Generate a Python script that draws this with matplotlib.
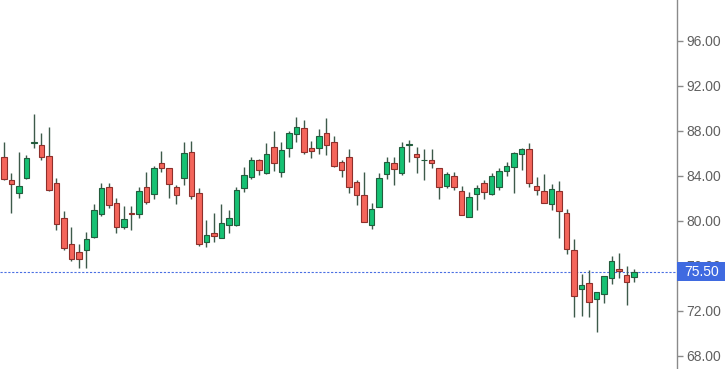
import matplotlib
matplotlib.use("Agg")
import matplotlib.pyplot as plt
from matplotlib.patches import Rectangle
import numpy as np

# OHLC values (one entry per candle)
opens = [85.72, 83.64, 82.52, 83.85, 86.92, 86.76, 85.78, 83.35, 80.24, 77.96,
         77.27, 77.42, 78.60, 80.60, 83.05, 81.57, 79.50, 80.70, 80.60, 83.02,
         82.37, 85.13, 84.68, 83.02, 83.80, 86.10, 82.46, 78.16, 78.90, 78.52,
         79.64, 79.64, 82.96, 83.94, 85.42, 84.24, 86.55, 84.38, 86.52, 87.73,
         88.24, 86.46, 86.46, 87.80, 87.05, 85.27, 85.72, 83.44, 82.31, 79.64,
         81.27, 84.15, 85.13, 84.24, 86.72, 85.96, 85.38, 85.42, 84.68, 83.14,
         84.00, 82.67, 80.38, 82.37, 83.35, 82.37, 83.05, 84.44, 84.83, 85.96,
         86.37, 83.11, 82.67, 81.54, 82.67, 80.68, 77.42, 73.93, 74.46, 73.07,
         73.51, 74.96, 75.70, 75.20, 75.05]
highs = [87.05, 84.24, 86.16, 85.87, 89.48, 87.80, 88.38, 83.85, 80.89, 79.50,
         77.93, 79.05, 81.48, 83.35, 83.35, 82.02, 81.33, 81.33, 83.05, 84.38,
         84.89, 86.25, 84.70, 83.20, 87.05, 87.11, 82.90, 80.09, 80.68, 81.48,
         80.98, 83.05, 84.83, 85.72, 85.50, 86.90, 88.00, 87.05, 88.00, 89.27,
         88.98, 87.11, 88.15, 89.18, 87.56, 85.40, 86.40, 83.60, 84.38, 81.57,
         84.24, 85.72, 85.72, 87.05, 87.20, 86.60, 86.40, 86.40, 84.70, 84.38,
         84.38, 83.11, 82.55, 83.20, 83.64, 84.24, 84.68, 85.22, 86.16, 86.50,
         86.90, 83.94, 84.15, 83.26, 83.56, 81.04, 78.37, 75.26, 75.64, 73.70,
         75.15, 76.89, 77.13, 76.00, 75.70]
lows = [83.60, 80.68, 82.02, 83.73, 86.46, 85.42, 82.70, 79.20, 77.42, 76.44,
        75.80, 75.80, 78.50, 80.44, 81.13, 78.90, 79.29, 79.20, 80.30, 81.48,
        81.96, 84.38, 82.07, 81.48, 83.20, 81.93, 77.80, 77.72, 78.16, 78.46,
        78.90, 79.58, 82.55, 83.73, 84.09, 84.15, 84.44, 83.94, 85.72, 87.05,
        85.93, 85.57, 85.93, 85.87, 84.83, 83.94, 82.46, 81.42, 79.88, 79.29,
        81.20, 83.73, 83.20, 84.09, 85.27, 84.24, 83.64, 84.74, 81.93, 82.90,
        82.76, 80.50, 80.33, 80.98, 81.93, 82.30, 82.76, 84.00, 82.46, 84.53,
        83.05, 82.31, 81.60, 80.98, 78.52, 77.07, 71.49, 71.58, 71.49, 70.16,
        72.74, 74.40, 74.90, 72.53, 74.60]
closes = [83.73, 83.29, 83.11, 85.57, 87.00, 85.66, 82.76, 79.73, 77.63, 76.62,
          76.62, 78.40, 80.98, 82.90, 81.42, 79.50, 80.18, 80.60, 82.67, 81.72,
          84.74, 84.74, 83.29, 82.31, 86.02, 82.25, 77.93, 78.76, 78.67, 79.80,
          80.24, 82.76, 84.09, 85.42, 84.50, 85.93, 85.13, 86.31, 87.80, 88.33,
          86.16, 86.22, 87.56, 86.76, 84.92, 84.53, 83.00, 82.31, 79.94, 81.07,
          83.80, 85.22, 84.62, 86.55, 86.80, 85.66, 85.45, 85.18, 83.05, 84.18,
          83.05, 80.53, 82.16, 82.90, 82.55, 84.00, 84.44, 84.89, 86.02, 86.37,
          83.40, 82.76, 81.63, 82.87, 80.89, 77.51, 73.33, 74.31, 72.83, 73.66,
          75.11, 76.44, 75.56, 74.60, 75.50]

last_price = 75.50
y_ticks = [68, 72, 76, 80, 84, 88, 92, 96]

UP = "#16c173"
UP_EDGE = "#235c3d"
DOWN = "#f4655b"
DOWN_EDGE = "#8e2f2b"
WICK = "#3d5a4a"
LINE_BLUE = "#4a6fe3"

o = np.array(opens)
h = np.array(highs)
l = np.array(lows)
c = np.array(closes)
x = np.arange(len(o))
up = c >= o

fig = plt.figure(figsize=(7.25, 3.69), dpi=100)
ax = fig.add_axes([0, 0, 677 / 725, 1])

# wicks first, bodies on top
ax.vlines(x, l, h, color=WICK, linewidth=1.0, zorder=2)
bottoms = np.minimum(o, c)
heights = np.maximum(np.abs(c - o), 0.06)
ax.bar(x[up], heights[up], bottom=bottoms[up], width=0.72,
       color=UP, edgecolor=UP_EDGE, linewidth=0.8, zorder=3)
ax.bar(x[~up], heights[~up], bottom=bottoms[~up], width=0.72,
       color=DOWN, edgecolor=DOWN_EDGE, linewidth=0.8, zorder=3)

# last price line and label
ax.axhline(last_price, color=LINE_BLUE, linewidth=0.8,
           linestyle=(0, (2, 1.5)), zorder=1)

ax.set_xlim(-0.53, 89.73)
ax.set_ylim(66.84, 99.64)

for side in ["left", "top", "bottom"]:
    ax.spines[side].set_visible(False)
ax.spines["right"].set_color("#8a8a8a")
ax.spines["right"].set_linewidth(1.0)

ax.set_xticks([])
ax.yaxis.tick_right()
ax.set_yticks(y_ticks)
ax.set_yticklabels([f"{t:.2f}" for t in y_ticks])
ax.tick_params(axis="y", length=4, width=1, color="#8a8a8a", pad=3,
               labelsize=10, labelcolor="#606060")
for lab in ax.get_yticklabels():
    lab.set_fontfamily("Liberation Sans")

# partially visible top label
ax.text(1.0 + 7 / 677, 100, "100.00", transform=ax.get_yaxis_transform(),
        va="center", ha="left", fontsize=10, color="#606060",
        family="Liberation Sans", clip_on=False)

trans = ax.get_yaxis_transform()
ax.add_patch(Rectangle((1.0, last_price - 0.85), 48 / 677, 1.7,
                       transform=trans, facecolor="#3f6ae0", edgecolor="none",
                       clip_on=False, zorder=5))
ax.text(1.0 + 7 / 677, last_price, f"{last_price:.2f}", transform=trans,
        va="center", ha="left", fontsize=10, color="white",
        family="Liberation Sans", clip_on=False, zorder=6)

fig.savefig("out.png", dpi=100)
